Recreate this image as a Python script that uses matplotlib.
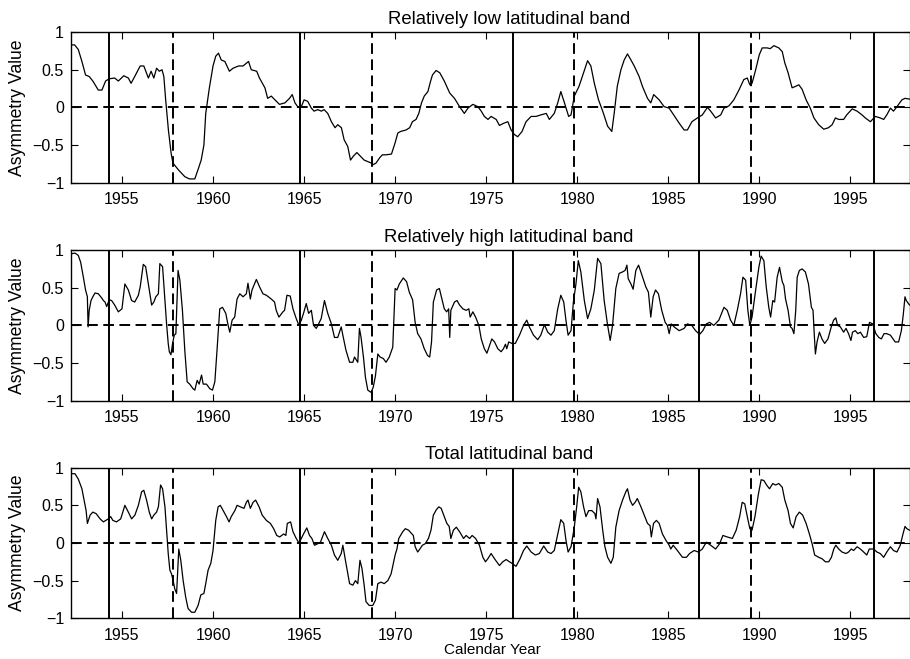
import matplotlib.pyplot as plt

plt.rcParams['font.family'] = ['Liberation Sans', 'DejaVu Sans']

# solar minima (solid) and maxima (dashed)
min_years = [1954.3, 1964.8, 1976.45, 1986.7, 1996.3]
max_years = [1957.8, 1968.75, 1979.8, 1989.55]

titles = ['Relatively low latitudinal band', 'Relatively high latitudinal band', 'Total latitudinal band']

# relatively low latitudinal band
low_years = [
    1952.2, 1952.4, 1952.6, 1952.8, 1953.0, 1953.2, 1953.4, 1953.7, 1953.9, 1954.1,
    1954.3, 1954.6, 1954.8, 1955.1, 1955.35, 1955.5, 1955.7, 1956.0, 1956.2, 1956.45,
    1956.6, 1956.75, 1956.9, 1957.05, 1957.2, 1957.3, 1957.4, 1957.55, 1957.7, 1957.8,
    1958.1, 1958.45, 1958.7, 1959.0, 1959.2, 1959.35, 1959.5, 1959.6, 1959.8, 1960.0,
    1960.15, 1960.3, 1960.45, 1960.65, 1960.9, 1961.1, 1961.4, 1961.65, 1961.85, 1961.95,
    1962.1, 1962.4, 1962.55, 1962.85, 1963.0, 1963.2, 1963.4, 1963.65, 1963.95, 1964.2,
    1964.35, 1964.5, 1964.65, 1964.85, 1965.0, 1965.2, 1965.4, 1965.55, 1965.75, 1965.95,
    1966.1, 1966.3, 1966.5, 1966.7, 1966.85, 1967.05, 1967.2, 1967.4, 1967.55, 1967.7,
    1967.9, 1968.1, 1968.3, 1968.5, 1968.7, 1968.8, 1968.95, 1969.15, 1969.3, 1969.5,
    1969.8, 1970.0, 1970.15, 1970.3, 1970.6, 1970.8, 1970.95, 1971.15, 1971.3, 1971.45,
    1971.6, 1971.8, 1971.95, 1972.05, 1972.25, 1972.45, 1972.7, 1973.0, 1973.26, 1973.54,
    1973.8, 1974.0, 1974.27, 1974.54, 1974.73, 1974.9, 1975.1, 1975.27, 1975.55, 1975.73,
    1975.97, 1976.19, 1976.37, 1976.55, 1976.73, 1976.97, 1977.19, 1977.47, 1977.74, 1978.0,
    1978.3, 1978.47, 1978.74, 1978.93, 1979.1, 1979.3, 1979.53, 1979.66, 1979.84, 1980.1,
    1980.4, 1980.57, 1980.75, 1980.94, 1981.17, 1981.4, 1981.67, 1981.9, 1982.03, 1982.2,
    1982.4, 1982.58, 1982.76, 1982.95, 1983.13, 1983.4, 1983.58, 1983.86, 1984.04, 1984.2,
    1984.5, 1984.77, 1985.05, 1985.3, 1985.6, 1985.87, 1986.05, 1986.3, 1986.6, 1986.87,
    1987.15, 1987.33, 1987.6, 1987.88, 1988.06, 1988.33, 1988.6, 1988.88, 1989.15, 1989.34,
    1989.48, 1989.6, 1989.8, 1990.0, 1990.16, 1990.43, 1990.6, 1990.8, 1991.07, 1991.26,
    1991.4, 1991.58, 1991.8, 1992.0, 1992.17, 1992.35, 1992.57, 1992.8, 1993.0, 1993.26,
    1993.54, 1993.8, 1994.0, 1994.18, 1994.36, 1994.63, 1994.8, 1995.1, 1995.37, 1995.64,
    1995.82, 1996.1, 1996.37, 1996.64, 1996.83, 1997.0, 1997.2, 1997.37, 1997.56, 1997.83,
    1998.0, 1998.25]
low_vals = [
    0.83, 0.83, 0.77, 0.61, 0.43, 0.41, 0.35, 0.23, 0.23, 0.35,
    0.38, 0.39, 0.35, 0.42, 0.39, 0.32, 0.41, 0.55, 0.55, 0.39,
    0.48, 0.39, 0.52, 0.48, 0.50, 0.41, 0.10, -0.30, -0.61, -0.74,
    -0.83, -0.92, -0.95, -0.95, -0.81, -0.70, -0.50, -0.08, 0.26, 0.55,
    0.68, 0.72, 0.63, 0.61, 0.48, 0.52, 0.55, 0.55, 0.59, 0.61,
    0.50, 0.48, 0.39, 0.26, 0.12, 0.15, 0.10, 0.04, 0.06, 0.12,
    0.17, 0.06, 0.01, 0.01, 0.10, 0.08, -0.01, -0.05, -0.03, -0.05,
    -0.03, -0.08, -0.19, -0.27, -0.23, -0.27, -0.43, -0.52, -0.70, -0.65,
    -0.60, -0.65, -0.70, -0.72, -0.74, -0.76, -0.74, -0.67, -0.63, -0.63,
    -0.62, -0.47, -0.34, -0.32, -0.30, -0.27, -0.19, -0.16, -0.08, 0.06,
    0.15, 0.21, 0.35, 0.43, 0.49, 0.46, 0.35, 0.19, 0.12, 0.01,
    -0.08, -0.01, 0.04, 0.01, -0.05, -0.12, -0.16, -0.12, -0.16, -0.24,
    -0.21, -0.19, -0.30, -0.36, -0.39, -0.32, -0.19, -0.12, -0.12, -0.10,
    -0.08, -0.16, -0.08, 0.06, 0.21, 0.06, -0.12, -0.10, 0.15, 0.28,
    0.50, 0.62, 0.55, 0.32, 0.10, -0.05, -0.25, -0.32, -0.08, 0.28,
    0.50, 0.63, 0.71, 0.63, 0.55, 0.41, 0.28, 0.12, 0.06, 0.17,
    0.10, 0.01, -0.01, -0.10, -0.21, -0.30, -0.30, -0.19, -0.14, -0.10,
    0.00, -0.05, -0.14, -0.10, -0.01, 0.02, 0.10, 0.23, 0.37, 0.39,
    0.30, 0.32, 0.50, 0.70, 0.79, 0.79, 0.78, 0.82, 0.79, 0.74,
    0.59, 0.46, 0.26, 0.28, 0.30, 0.24, 0.10, -0.01, -0.14, -0.23,
    -0.29, -0.27, -0.23, -0.14, -0.16, -0.16, -0.10, -0.02, -0.05, -0.10,
    -0.14, -0.19, -0.12, -0.14, -0.16, -0.10, -0.01, -0.05, 0.01, 0.10,
    0.12, 0.11]

# relatively high latitudinal band
high_years = [
    1952.2, 1952.42, 1952.6, 1952.73, 1952.88, 1953.0, 1953.1, 1953.14, 1953.2, 1953.3,
    1953.4, 1953.52, 1953.7, 1953.9, 1953.98, 1954.07, 1954.16, 1954.3, 1954.43, 1954.6,
    1954.8, 1955.0, 1955.16, 1955.35, 1955.53, 1955.7, 1955.9, 1956.0, 1956.17, 1956.3,
    1956.45, 1956.63, 1956.75, 1956.86, 1957.0, 1957.08, 1957.23, 1957.36, 1957.45, 1957.54,
    1957.6, 1957.69, 1957.78, 1957.87, 1957.96, 1958.08, 1958.18, 1958.32, 1958.45, 1958.58,
    1958.72, 1958.9, 1959.0, 1959.13, 1959.24, 1959.37, 1959.46, 1959.64, 1959.82, 1959.97,
    1960.1, 1960.22, 1960.37, 1960.52, 1960.7, 1960.83, 1960.92, 1961.05, 1961.19, 1961.32,
    1961.47, 1961.65, 1961.83, 1961.92, 1962.05, 1962.14, 1962.38, 1962.56, 1962.74, 1962.93,
    1963.2, 1963.38, 1963.47, 1963.62, 1963.84, 1963.93, 1964.06, 1964.24, 1964.39, 1964.57,
    1964.72, 1964.85, 1964.97, 1965.12, 1965.25, 1965.4, 1965.52, 1965.67, 1965.8, 1965.94,
    1966.12, 1966.3, 1966.5, 1966.67, 1966.85, 1967.04, 1967.13, 1967.3, 1967.5, 1967.68,
    1967.77, 1967.95, 1968.04, 1968.13, 1968.26, 1968.37, 1968.5, 1968.68, 1968.8, 1968.92,
    1969.05, 1969.17, 1969.35, 1969.5, 1969.68, 1969.87, 1970.0, 1970.1, 1970.23, 1970.45,
    1970.63, 1970.78, 1970.96, 1971.1, 1971.24, 1971.42, 1971.6, 1971.78, 1971.9, 1972.0,
    1972.1, 1972.28, 1972.43, 1972.57, 1972.7, 1972.83, 1972.94, 1973.0, 1973.06, 1973.26,
    1973.4, 1973.54, 1973.72, 1973.9, 1974.05, 1974.12, 1974.27, 1974.42, 1974.6, 1974.73,
    1974.9, 1975.04, 1975.18, 1975.31, 1975.46, 1975.64, 1975.82, 1975.95, 1976.06, 1976.13,
    1976.24, 1976.42, 1976.6, 1976.83, 1977.05, 1977.23, 1977.37, 1977.6, 1977.83, 1978.0,
    1978.2, 1978.38, 1978.56, 1978.74, 1978.93, 1979.1, 1979.26, 1979.38, 1979.5, 1979.66,
    1979.79, 1979.93, 1980.06, 1980.2, 1980.39, 1980.57, 1980.75, 1980.94, 1981.12, 1981.3,
    1981.48, 1981.67, 1981.81, 1981.94, 1982.12, 1982.3, 1982.49, 1982.63, 1982.73, 1982.8,
    1982.95, 1983.07, 1983.22, 1983.37, 1983.55, 1983.77, 1983.91, 1984.04, 1984.17, 1984.3,
    1984.46, 1984.64, 1984.83, 1984.95, 1985.05, 1985.16, 1985.32, 1985.6, 1985.87, 1986.05,
    1986.29, 1986.5, 1986.72, 1986.9, 1987.09, 1987.27, 1987.5, 1987.78, 1988.06, 1988.24,
    1988.42, 1988.6, 1988.79, 1988.97, 1989.1, 1989.25, 1989.37, 1989.48, 1989.6, 1989.8,
    1989.98, 1990.1, 1990.25, 1990.38, 1990.52, 1990.62, 1990.74, 1990.84, 1990.98, 1991.11,
    1991.26, 1991.35, 1991.44, 1991.58, 1991.71, 1991.8, 1991.9, 1992.0, 1992.08, 1992.2,
    1992.35, 1992.53, 1992.7, 1992.86, 1992.95, 1993.02, 1993.08, 1993.17, 1993.3, 1993.44,
    1993.59, 1993.77, 1993.95, 1994.08, 1994.2, 1994.3, 1994.45, 1994.63, 1994.76, 1994.9,
    1995.03, 1995.12, 1995.27, 1995.41, 1995.55, 1995.73, 1995.9, 1996.05, 1996.23, 1996.4,
    1996.56, 1996.7, 1996.85, 1997.0, 1997.2, 1997.46, 1997.65, 1997.8, 1997.9, 1998.0,
    1998.07, 1998.25]
high_vals = [
    0.95, 0.96, 0.93, 0.84, 0.64, 0.47, 0.38, -0.02, 0.20, 0.33,
    0.38, 0.43, 0.42, 0.36, 0.33, 0.31, 0.25, 0.34, 0.33, 0.27,
    0.18, 0.22, 0.55, 0.47, 0.33, 0.31, 0.40, 0.51, 0.81, 0.78,
    0.55, 0.27, 0.31, 0.38, 0.42, 0.82, 0.78, 0.33, 0.02, -0.24,
    -0.35, -0.39, -0.24, -0.13, -0.11, 0.73, 0.60, 0.20, -0.33, -0.75,
    -0.78, -0.84, -0.86, -0.73, -0.78, -0.66, -0.78, -0.78, -0.84, -0.86,
    -0.75, -0.33, 0.22, 0.24, 0.16, 0.00, -0.09, 0.07, 0.11, 0.35,
    0.42, 0.38, 0.42, 0.56, 0.35, 0.47, 0.61, 0.51, 0.42, 0.40,
    0.35, 0.31, 0.20, 0.11, 0.18, 0.20, 0.40, 0.39, 0.22, 0.09,
    0.00, 0.07, 0.16, 0.29, 0.16, 0.20, 0.00, -0.04, 0.02, 0.09,
    0.33, 0.16, 0.02, -0.16, -0.16, -0.02, -0.13, -0.33, -0.49, -0.49,
    -0.42, -0.49, -0.04, -0.16, -0.42, -0.69, -0.86, -0.89, -0.82, -0.67,
    -0.38, -0.42, -0.44, -0.49, -0.42, -0.29, 0.49, 0.47, 0.55, 0.63,
    0.58, 0.44, 0.34, 0.04, -0.11, -0.18, -0.31, -0.40, -0.42, -0.22,
    0.31, 0.47, 0.49, 0.35, 0.22, 0.18, 0.22, -0.16, 0.20, 0.31,
    0.33, 0.27, 0.22, 0.20, 0.22, 0.11, 0.18, 0.11, 0.00, -0.18,
    -0.31, -0.37, -0.27, -0.18, -0.22, -0.31, -0.35, -0.31, -0.25, -0.31,
    -0.22, -0.24, -0.24, -0.13, 0.00, 0.07, -0.02, -0.13, -0.19, -0.13,
    0.01, -0.09, -0.13, -0.07, 0.22, 0.40, 0.31, 0.07, -0.13, -0.07,
    0.31, 0.55, 0.86, 0.71, 0.33, 0.09, 0.22, 0.47, 0.89, 0.82,
    0.33, 0.00, -0.20, 0.00, 0.49, 0.69, 0.71, 0.73, 0.80, 0.62,
    0.55, 0.48, 0.73, 0.80, 0.67, 0.51, 0.44, 0.11, 0.38, 0.47,
    0.42, 0.20, 0.04, 0.00, -0.11, 0.02, -0.02, -0.07, -0.04, 0.02,
    0.00, -0.07, -0.12, -0.07, 0.02, 0.04, 0.00, 0.07, 0.24, 0.20,
    0.07, 0.00, 0.20, 0.42, 0.64, 0.60, 0.20, 0.00, 0.11, 0.47,
    0.78, 0.92, 0.86, 0.51, 0.24, 0.11, 0.33, 0.31, 0.64, 0.77,
    0.58, 0.53, 0.35, 0.20, -0.02, -0.04, -0.11, 0.20, 0.64, 0.73,
    0.75, 0.71, 0.55, 0.24, 0.20, -0.13, -0.38, -0.22, -0.09, -0.18,
    -0.24, -0.18, -0.02, 0.07, 0.10, 0.00, -0.02, -0.09, -0.04, -0.11,
    -0.20, -0.09, -0.07, -0.11, -0.09, -0.16, -0.15, 0.04, 0.02, -0.11,
    -0.16, -0.18, -0.11, -0.11, -0.13, -0.22, -0.22, -0.07, 0.13, 0.38,
    0.33, 0.27]

# total latitudinal band
total_years = [
    1952.2, 1952.42, 1952.6, 1952.8, 1952.92, 1953.03, 1953.1, 1953.25, 1953.4, 1953.58,
    1953.8, 1953.98, 1954.12, 1954.25, 1954.38, 1954.5, 1954.7, 1954.93, 1955.16, 1955.35,
    1955.53, 1955.71, 1955.9, 1956.08, 1956.2, 1956.35, 1956.5, 1956.63, 1956.75, 1956.9,
    1957.0, 1957.12, 1957.23, 1957.36, 1957.45, 1957.54, 1957.63, 1957.72, 1957.81, 1957.9,
    1958.0, 1958.12, 1958.23, 1958.36, 1958.5, 1958.63, 1958.82, 1959.0, 1959.18, 1959.33,
    1959.5, 1959.6, 1959.73, 1959.88, 1960.0, 1960.15, 1960.28, 1960.4, 1960.6, 1960.74,
    1960.88, 1961.0, 1961.2, 1961.32, 1961.5, 1961.7, 1961.83, 1961.92, 1962.05, 1962.2,
    1962.34, 1962.53, 1962.7, 1962.93, 1963.15, 1963.33, 1963.5, 1963.66, 1963.88, 1964.0,
    1964.08, 1964.26, 1964.39, 1964.57, 1964.72, 1964.85, 1964.97, 1965.15, 1965.3, 1965.43,
    1965.57, 1965.75, 1965.9, 1966.12, 1966.3, 1966.5, 1966.67, 1966.85, 1967.04, 1967.13,
    1967.3, 1967.5, 1967.68, 1967.82, 1967.95, 1968.07, 1968.18, 1968.3, 1968.4, 1968.58,
    1968.77, 1968.92, 1969.05, 1969.23, 1969.4, 1969.6, 1969.78, 1970.0, 1970.1, 1970.2,
    1970.42, 1970.56, 1970.74, 1970.93, 1971.0, 1971.1, 1971.24, 1971.36, 1971.5, 1971.65,
    1971.83, 1971.97, 1972.1, 1972.26, 1972.4, 1972.53, 1972.67, 1972.84, 1972.97, 1973.06,
    1973.2, 1973.36, 1973.54, 1973.76, 1973.9, 1974.09, 1974.23, 1974.42, 1974.63, 1974.82,
    1974.96, 1975.09, 1975.27, 1975.46, 1975.73, 1975.91, 1976.1, 1976.28, 1976.42, 1976.64,
    1976.86, 1977.05, 1977.23, 1977.47, 1977.7, 1977.92, 1978.16, 1978.38, 1978.56, 1978.74,
    1978.93, 1979.1, 1979.26, 1979.38, 1979.5, 1979.66, 1979.84, 1979.97, 1980.08, 1980.2,
    1980.35, 1980.48, 1980.63, 1980.8, 1980.97, 1981.03, 1981.12, 1981.25, 1981.4, 1981.52,
    1981.67, 1981.85, 1981.98, 1982.12, 1982.3, 1982.49, 1982.67, 1982.76, 1982.9, 1983.04,
    1983.18, 1983.3, 1983.5, 1983.68, 1983.86, 1984.0, 1984.07, 1984.19, 1984.35, 1984.5,
    1984.68, 1984.86, 1985.05, 1985.14, 1985.27, 1985.5, 1985.78, 1986.0, 1986.17, 1986.42,
    1986.65, 1986.87, 1987.09, 1987.33, 1987.6, 1987.82, 1988.0, 1988.24, 1988.52, 1988.73,
    1988.92, 1989.06, 1989.2, 1989.34, 1989.48, 1989.6, 1989.76, 1989.95, 1990.1, 1990.25,
    1990.4, 1990.56, 1990.74, 1990.89, 1991.07, 1991.26, 1991.4, 1991.58, 1991.71, 1991.86,
    1992.02, 1992.2, 1992.38, 1992.57, 1992.75, 1992.9, 1993.04, 1993.26, 1993.45, 1993.63,
    1993.81, 1993.96, 1994.09, 1994.2, 1994.36, 1994.54, 1994.76, 1994.9, 1995.05, 1995.18,
    1995.37, 1995.55, 1995.73, 1995.9, 1996.04, 1996.28, 1996.46, 1996.64, 1996.83, 1997.0,
    1997.2, 1997.37, 1997.56, 1997.74, 1997.87, 1998.0, 1998.1, 1998.25]
total_vals = [
    0.92, 0.92, 0.85, 0.72, 0.57, 0.43, 0.26, 0.37, 0.41, 0.39,
    0.32, 0.28, 0.30, 0.32, 0.35, 0.30, 0.28, 0.32, 0.50, 0.41,
    0.32, 0.37, 0.50, 0.68, 0.70, 0.57, 0.41, 0.32, 0.37, 0.41,
    0.48, 0.77, 0.72, 0.48, 0.17, -0.14, -0.36, -0.41, -0.50, -0.61,
    -0.67, -0.08, -0.23, -0.50, -0.72, -0.87, -0.92, -0.92, -0.83, -0.69,
    -0.67, -0.54, -0.36, -0.27, -0.10, 0.30, 0.48, 0.50, 0.41, 0.35,
    0.28, 0.35, 0.43, 0.50, 0.48, 0.46, 0.54, 0.57, 0.46, 0.54,
    0.57, 0.48, 0.37, 0.30, 0.26, 0.19, 0.10, 0.08, 0.12, 0.10,
    0.26, 0.28, 0.15, 0.06, 0.00, 0.06, 0.12, 0.20, 0.10, 0.06,
    -0.03, -0.01, 0.01, 0.15, 0.06, -0.03, -0.16, -0.23, -0.14, -0.03,
    -0.27, -0.54, -0.56, -0.50, -0.54, -0.23, -0.34, -0.56, -0.78, -0.83,
    -0.83, -0.76, -0.54, -0.52, -0.54, -0.50, -0.41, -0.16, -0.08, 0.06,
    0.15, 0.19, 0.17, 0.12, 0.10, -0.05, -0.12, -0.08, -0.03, -0.01,
    0.06, 0.17, 0.37, 0.44, 0.48, 0.46, 0.37, 0.26, 0.22, 0.06,
    0.17, 0.21, 0.15, 0.06, 0.10, 0.06, 0.10, 0.06, -0.03, -0.19,
    -0.25, -0.21, -0.14, -0.21, -0.30, -0.25, -0.22, -0.25, -0.27, -0.31,
    -0.21, -0.10, -0.04, -0.12, -0.16, -0.14, -0.04, -0.12, -0.14, -0.10,
    0.12, 0.31, 0.26, 0.04, -0.12, -0.05, 0.21, 0.48, 0.74, 0.68,
    0.48, 0.35, 0.43, 0.43, 0.39, 0.32, 0.59, 0.48, 0.17, -0.05,
    -0.19, -0.27, -0.19, 0.21, 0.43, 0.57, 0.68, 0.72, 0.57, 0.50,
    0.54, 0.59, 0.48, 0.37, 0.26, 0.23, 0.08, 0.26, 0.30, 0.26,
    0.12, 0.04, -0.03, -0.08, -0.03, -0.10, -0.19, -0.19, -0.14, -0.10,
    -0.12, -0.08, 0.01, -0.03, -0.08, -0.01, 0.10, 0.08, 0.06, 0.17,
    0.35, 0.54, 0.52, 0.35, 0.19, 0.17, 0.35, 0.65, 0.84, 0.83,
    0.77, 0.72, 0.79, 0.77, 0.79, 0.74, 0.57, 0.43, 0.26, 0.20,
    0.35, 0.41, 0.37, 0.26, 0.12, -0.01, -0.16, -0.19, -0.21, -0.25,
    -0.25, -0.19, -0.08, -0.03, -0.08, -0.12, -0.14, -0.12, -0.08, -0.10,
    -0.05, -0.08, -0.12, -0.16, -0.08, -0.08, -0.12, -0.14, -0.19, -0.12,
    -0.05, -0.10, -0.12, -0.03, 0.10, 0.22, 0.19, 0.17]

series = [(low_years, low_vals), (high_years, high_vals), (total_years, total_vals)]

x_ticks = [1955, 1960, 1965, 1970, 1975, 1980, 1985, 1990, 1995]
y_ticks = [-1, -0.5, 0, 0.5, 1]
y_labels = ['\u22121', '\u22120.5', '0', '0.5', '1']

fig = plt.figure(figsize=(9.1, 6.59), dpi=100)
bottoms = [0.7228, 0.3920, 0.0618]
dash = (0, (5.5, 2.8))

for i, (xs, ys) in enumerate(series):
    ax = fig.add_axes([0.078, bottoms[i], 0.9215, 0.2285])
    ax.plot(xs, ys, color='black', lw=0.9)
    ax.axhline(0, color='black', lw=1.4, ls=dash)
    for yr in min_years:
        ax.axvline(yr, color='black', lw=1.4)
    for yr in max_years:
        ax.axvline(yr, color='black', lw=1.4, ls=dash)
    ax.set_xlim(1952.2, 1998.25)
    ax.set_ylim(-1, 1)
    ax.set_xticks(x_ticks)
    ax.set_yticks(y_ticks)
    ax.set_yticklabels(y_labels)
    ax.tick_params(direction='in', top=True, right=True, length=5, width=0.8, labelsize=11.5)
    ax.tick_params(axis='x', pad=7)
    ax.tick_params(axis='y', pad=5)
    for sp in ax.spines.values():
        sp.set_linewidth(1.0)
    # titles sit a little right of the visible axes centre
    ax.set_title(titles[i], fontsize=13.3, pad=6, x=0.522)
    ax.set_ylabel('Asymmetry Value', fontsize=12.7)
    ax.yaxis.set_label_coords(-0.054, 0.5)
    if i == 2:
        ax.set_xlabel('Calendar Year', fontsize=11, labelpad=1)
        ax.xaxis.set_label_coords(0.502, -0.165)

fig.savefig('out.png', dpi=100)
